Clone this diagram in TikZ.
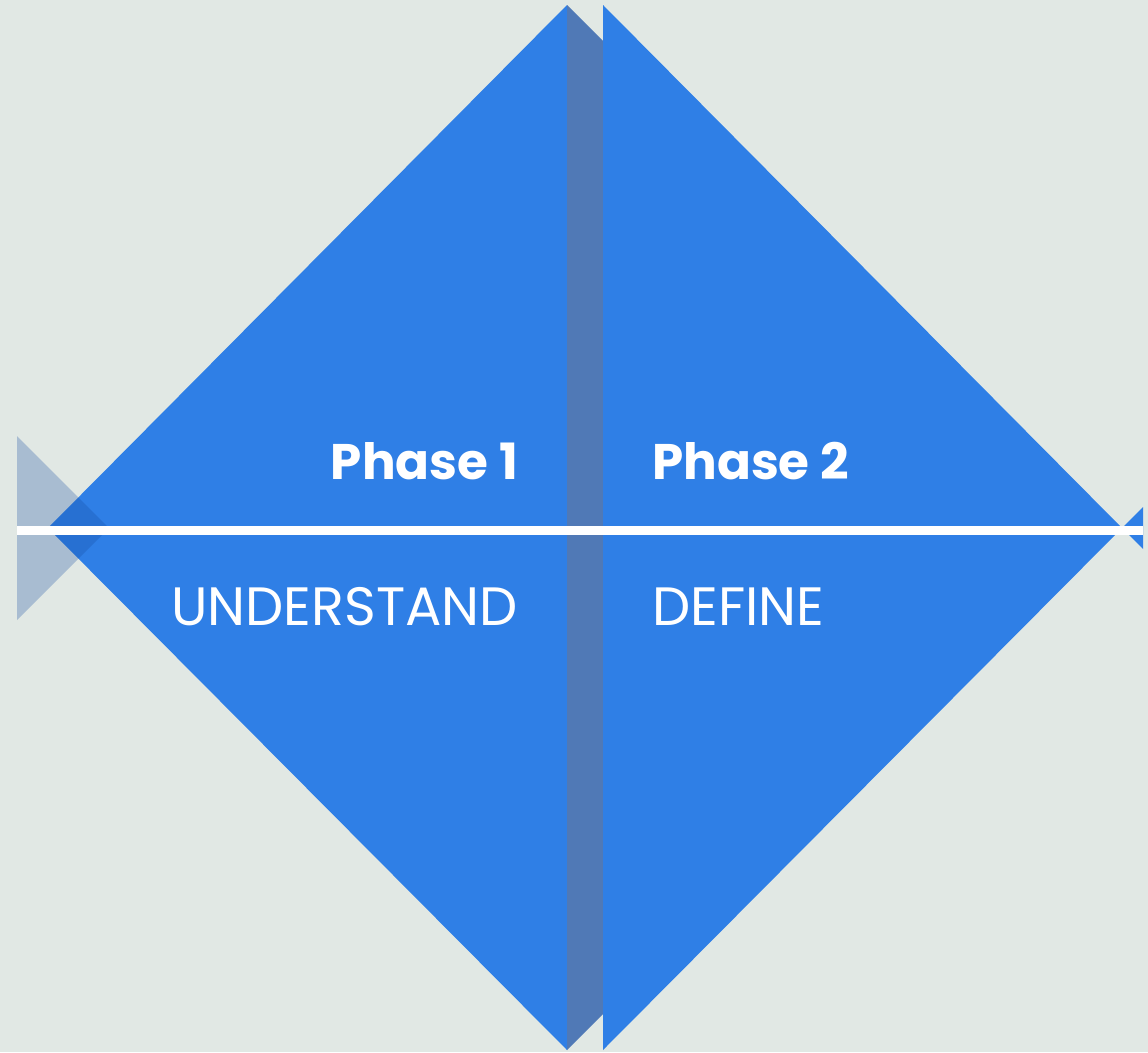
\documentclass[tikz,border=0pt]{standalone}
\usepackage{fontspec}
\setmainfont{Poppins}
\definecolor{bg}{HTML}{E1E8E4}
\definecolor{dblue}{HTML}{2F7FE6}
\definecolor{band}{HTML}{5079B6}
\definecolor{ltshade}{RGB}{18,73,158}
\tikzset{
  tri/.style={fill=dblue,draw=none},
  phase/.style={text=white,font=\fontsize{50}{60}\selectfont\bfseries,inner sep=0pt},
  word/.style={text=white,font=\fontsize{54}{64}\selectfont,inner sep=0pt},
}
\begin{document}
\begin{tikzpicture}[x=1pt,y=-1pt]
\fill[bg] (0,0) rectangle (1148,1052);
\useasboundingbox (0,0) rectangle (1148,1052);
% left triangle
\coordinate (lt) at (567,5);
\coordinate (lb) at (567,1050);
\coordinate (ltip) at (48,528);
\fill[tri] (lt) -- (ltip) -- (lb) -- cycle;
% band
\coordinate (rt) at (603,5);
\coordinate (rb) at (603,1050);
\fill[band] (lt) -- (603,41) -- (603,1014) -- (lb) -- cycle;
% right triangle
\coordinate (rtip) at (1122,528);
\fill[tri] (rt) -- (rtip) -- (rb) -- cycle;
% small right triangle
\fill[tri] (rtip) -- (1143,507) -- (1143,549) -- cycle;
% light left triangle
\fill[ltshade,fill opacity=0.27] (17,436) -- (109,528) -- (17,620) -- cycle;
% white line
\coordinate (wl) at (17,530);
\coordinate (wr) at (1143,530);
\draw[white,line width=9pt] (wl) -- (wr);
% texts
\node[phase,anchor=base east] (p1) at (518,479) {Phase 1};
\node[word,anchor=base east] (u) at (518,625) {UNDERSTAND};
\node[phase,anchor=base west] (p2) at (652,479) {Phase 2};
\node[word,anchor=base west] (d) at (652,625) {DEFINE};
\end{tikzpicture}
\end{document}
